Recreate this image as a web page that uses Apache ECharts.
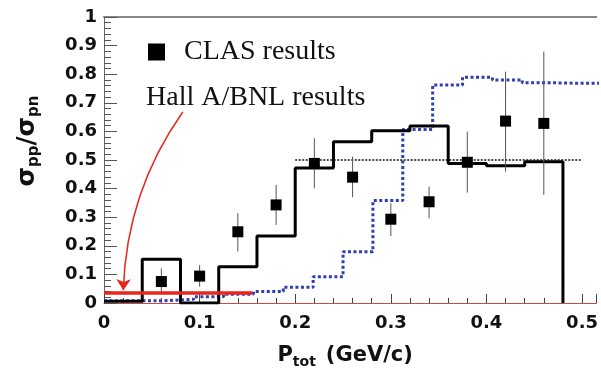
<!DOCTYPE html>
<html>
<head>
<meta charset="utf-8">
<script src="https://cdn.jsdelivr.net/npm/echarts@6/dist/echarts.min.js"></script>
<style>html,body{margin:0;padding:0;background:#fff}#c{width:601px;height:375px}</style>
</head>
<body>
<div id="c"></div>
<script>
// ---- data ----
const blackEdges = [0, 0.04, 0.08, 0.12, 0.16, 0.20, 0.24, 0.28, 0.32, 0.36, 0.40, 0.44, 0.48];
const blackValues = [0.006, 0.153, 0, 0.127, 0.234, 0.472, 0.564, 0.602, 0.619, 0.488, 0.48, 0.494];
const blueEdges = [0, 0.03125, 0.0625, 0.09375, 0.125, 0.15625, 0.1875, 0.21875, 0.25, 0.28125, 0.3125, 0.34375, 0.375, 0.40625, 0.4375, 0.46875, 0.5, 0.53125];
const blueValues = [0.008, 0.008, 0.013, 0.022, 0.031, 0.04, 0.055, 0.092, 0.179, 0.358, 0.607, 0.762, 0.789, 0.78, 0.77, 0.768, 0.768];
const clasX = [0.06, 0.10, 0.14, 0.18, 0.22, 0.26, 0.30, 0.34, 0.38, 0.42, 0.46];
const clasY = [0.075, 0.094, 0.249, 0.343, 0.488, 0.44, 0.293, 0.354, 0.492, 0.636, 0.628];
const clasLo = [0.035, 0.057, 0.18, 0.273, 0.401, 0.37, 0.234, 0.296, 0.386, 0.459, 0.378];
const clasHi = [0.121, 0.133, 0.314, 0.413, 0.576, 0.512, 0.349, 0.407, 0.599, 0.809, 0.879];
const hallX = [0, 0.155];
const hallY = [0.035, 0.035];
const refLineX = [0.2, 0.5];
const refLineY = [0.5, 0.5];
const arrowFrom = [0.0824, 0.668];
const arrowTo = [0.0202, 0.045];
const xTicks = ['0', '0.1', '0.2', '0.3', '0.4', '0.5'];
const yTicks = ['0', '0.1', '0.2', '0.3', '0.4', '0.5', '0.6', '0.7', '0.8', '0.9', '1'];

// ---- build ----
const blackStep = blackValues.map((v, i) => [blackEdges[i], v]);
blackStep.push([blackEdges[blackEdges.length - 1], 0]);
const blueStep = blueValues.map((v, i) => [blueEdges[i], v]);
blueStep.push([blueEdges[blueEdges.length - 1], blueValues[blueValues.length - 1]]);
const clasPts = clasX.map((x, i) => [x, clasY[i]]);
const clasErr = clasX.map((x, i) => [x, clasLo[i], clasHi[i]]);

const tickFont = {fontFamily: 'DejaVu Sans', fontWeight: 'bold', fontSize: 18, color: '#111'};
const chart = echarts.init(document.getElementById('c'), null, {renderer: 'canvas'});
chart.setOption({
  animation: false,
  grid: {left: 104, top: 17, right: 0, bottom: 72},
  legend: {
    data: ['CLAS results'], left: 143, top: 33, icon: 'rect', itemWidth: 17, itemHeight: 17,
    itemStyle: {color: '#000', opacity: 1},
    textStyle: {fontFamily: 'Liberation Serif', fontSize: 28, color: '#111', padding: [0, 0, 0, 14]}
  },
  title: {
    text: 'Hall A/BNL results', left: 146, top: 84,
    textStyle: {fontFamily: 'Liberation Serif', fontSize: 28, fontWeight: 'normal', color: '#111'},
    padding: 0
  },
  xAxis: [{
    type: 'value', min: 0, max: 0.515, interval: 0.1,
    axisLine: {lineStyle: {color: '#c84a4a', width: 1}},
    axisTick: {inside: true, length: 9, lineStyle: {color: '#444'}},
    minorTick: {show: true, splitNumber: 5, length: 5, lineStyle: {color: '#444'}},
    splitLine: {show: false},
    axisLabel: Object.assign({margin: 11, formatter: (v) => xTicks[Math.round(v * 10)] ?? ''}, tickFont),
    name: '{p|P}{sub|tot}{gap| }{p|(GeV/c)}', nameLocation: 'middle', nameGap: 40,
    nameTextStyle: {
      padding: [0, 10, 0, 0],
      rich: {
        p: {fontFamily: 'DejaVu Sans', fontWeight: 'bold', fontSize: 21, color: '#111'},
        gap: {fontSize: 21, width: 10},
        sub: {fontFamily: 'DejaVu Sans', fontWeight: 'bold', fontSize: 14, color: '#111', padding: [12, 0, 0, 0]}
      }
    }
  }, {
    type: 'value', position: 'top', min: 0, max: 0.515,
    axisLine: {show: true, lineStyle: {color: '#888', width: 2}},
    axisTick: {show: false}, axisLabel: {show: false}, splitLine: {show: false}
  }],
  yAxis: {
    type: 'value', min: 0, max: 1, interval: 0.1,
    axisLine: {show: true, lineStyle: {color: '#666', width: 1}},
    axisTick: {inside: true, length: 13, lineStyle: {color: '#555'}},
    minorTick: {show: true, splitNumber: 5, length: 7, lineStyle: {color: '#555'}},
    splitLine: {show: false},
    axisLabel: Object.assign({margin: 7, formatter: (v) => yTicks[Math.round(v * 10)] ?? ''}, tickFont),
    name: '{s|σ}{sub|pp}{s|/σ}{sub|pn}', nameLocation: 'middle', nameRotate: 90, nameGap: 62,
    nameTextStyle: {
      padding: [0, 0, 0, 38],
      rich: {
        s: {fontFamily: 'DejaVu Sans', fontWeight: 'bold', fontSize: 25, color: '#111'},
        sub: {fontFamily: 'DejaVu Sans', fontWeight: 'bold', fontSize: 15, color: '#111', padding: [14, 0, 0, 0]}
      }
    }
  },
  series: [
    {
      name: 'model-blue', type: 'line', step: 'end', data: blueStep, symbol: 'none', z: 2,
      lineStyle: {color: '#2e3fb2', width: 3, type: [3, 2.5]}
    },
    {
      name: 'model-black', type: 'line', step: 'end', data: blackStep, symbol: 'none', z: 3,
      lineStyle: {color: '#000', width: 3}
    },
    {
      name: 'ref', type: 'line', data: refLineX.map((x, i) => [x, refLineY[i]]), symbol: 'none', z: 3,
      lineStyle: {color: '#111', width: 1.5, type: [2, 1.5]}
    },
    {
      name: 'err', type: 'custom', z: 4,
      data: clasErr, encode: {x: 0, y: [1, 2]},
      renderItem: function (params, api) {
        const p1 = api.coord([api.value(0), api.value(1)]);
        const p2 = api.coord([api.value(0), api.value(2)]);
        return {type: 'line', shape: {x1: p1[0], y1: p1[1], x2: p2[0], y2: p2[1]}, style: {stroke: '#555', lineWidth: 1}};
      }
    },
    {
      name: 'CLAS results', type: 'scatter', data: clasPts, symbol: 'rect', symbolSize: 11, z: 5,
      itemStyle: {color: '#000', opacity: 1}
    },
    {
      name: 'Hall A/BNL', type: 'line', data: hallX.map((x, i) => [x, hallY[i]]), symbol: 'none', z: 6,
      lineStyle: {color: '#e8261c', width: 3.5}
    },
    {
      name: 'arrow', type: 'lines', coordinateSystem: 'cartesian2d', z: 6,
      symbol: ['none', 'arrow'], symbolSize: 11,
      lineStyle: {color: '#e8261c', width: 1.5, curveness: -0.15, opacity: 1},
      data: [{coords: [arrowFrom, arrowTo]}]
    }
  ]
});
</script>
</body>
</html>
